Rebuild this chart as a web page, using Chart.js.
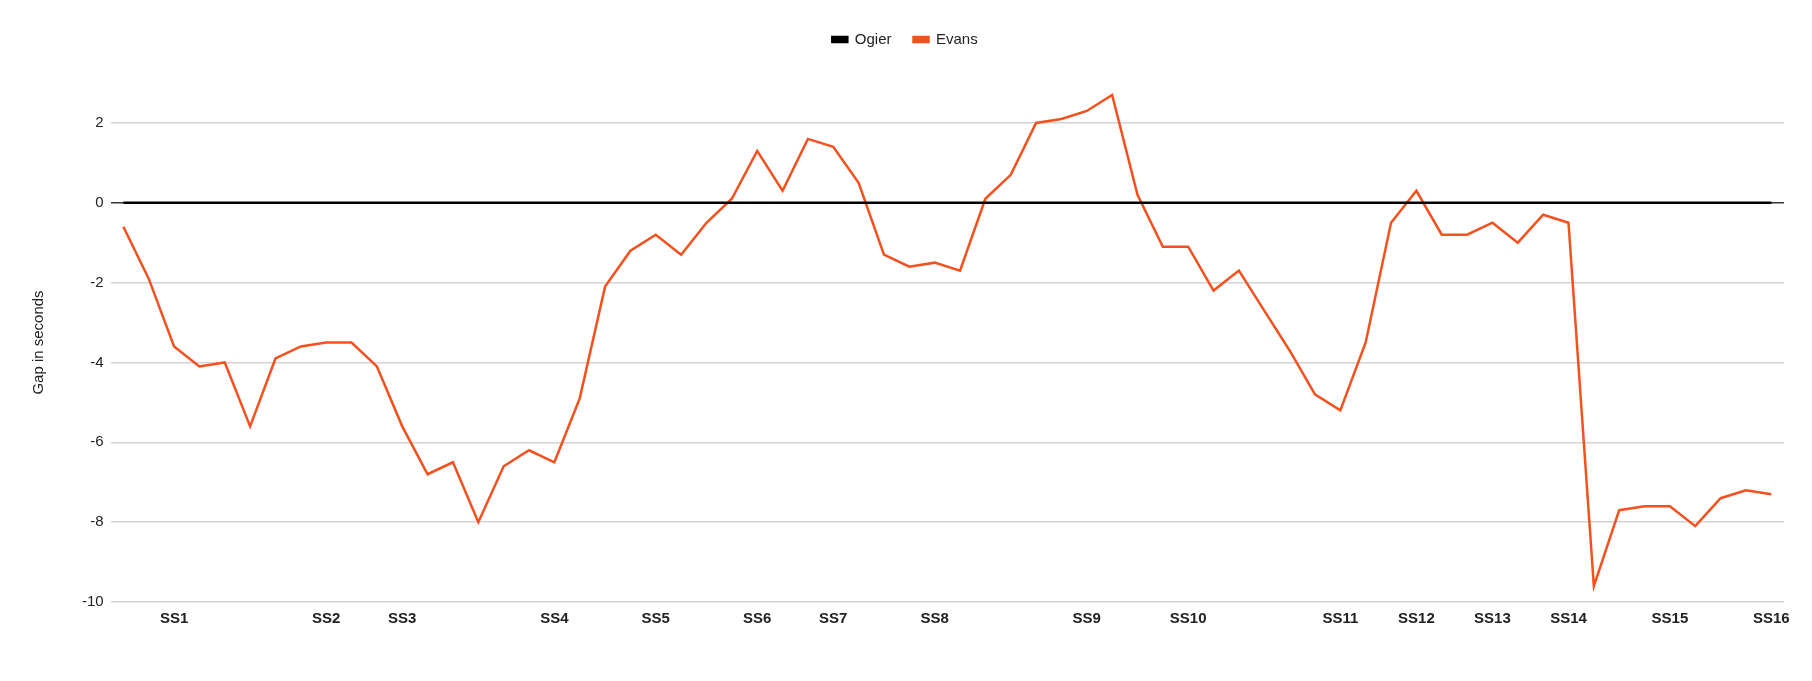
<!DOCTYPE html>
<html>
<head>
<meta charset="utf-8">
<script src="https://cdn.jsdelivr.net/npm/chart.js@4"></script>
<style>
  html, body { margin: 0; padding: 0; background: #fff; }
  #wrap { width: 1812px; height: 681px; }
</style>
</head>
<body>
<div id="wrap"><canvas id="stage"></canvas></div>
<script>
// stage labels, only some points carry a name
const stages = [
  '', '', 'SS1', '', '', '', '', '', 'SS2', '', '',
  'SS3', '', '', '', '', '', 'SS4', '', '', '',
  'SS5', '', '', '', 'SS6', '', '', 'SS7', '', '',
  '', 'SS8', '', '', '', '', '', 'SS9', '', '',
  '', 'SS10', '', '', '', '', '', 'SS11', '', '',
  'SS12', '', '', 'SS13', '', '', 'SS14', '', '', '',
  'SS15', '', '', '', 'SS16'
];

const ogier = [
  0, 0, 0, 0, 0, 0, 0, 0, 0, 0, 0,
  0, 0, 0, 0, 0, 0, 0, 0, 0, 0, 0,
  0, 0, 0, 0, 0, 0, 0, 0, 0, 0, 0,
  0, 0, 0, 0, 0, 0, 0, 0, 0, 0, 0,
  0, 0, 0, 0, 0, 0, 0, 0, 0, 0, 0,
  0, 0, 0, 0, 0, 0, 0, 0, 0, 0, 0
];

const evans = [
  -0.6, -1.9, -3.6, -4.1, -4.0, -5.6, -3.9, -3.6, -3.5, -3.5, -4.1,
  -5.6, -6.8, -6.5, -8.0, -6.6, -6.2, -6.5, -4.9, -2.1, -1.2, -0.8,
  -1.3, -0.5, 0.1, 1.3, 0.3, 1.6, 1.4, 0.5, -1.3, -1.6, -1.5,
  -1.7, 0.1, 0.7, 2.0, 2.1, 2.3, 2.7, 0.2, -1.1, -1.1, -2.2,
  -1.7, -2.7, -3.7, -4.8, -5.2, -3.5, -0.5, 0.3, -0.8, -0.8, -0.5,
  -1.0, -0.3, -0.5, -9.6, -7.7, -7.6, -7.6, -8.1, -7.4, -7.2, -7.3
];

const yTicks = [-10, -8, -6, -4, -2, 0, 2];

Chart.defaults.font.family = '"Liberation Sans", Arial, sans-serif';
Chart.defaults.color = '#222';

// legend の下に余白を足す
const legendGap = {
  id: 'legendGap',
  beforeInit(chart) {
    const fit = chart.legend.fit;
    chart.legend.fit = function () {
      fit.bind(chart.legend)();
      this.height += 26;
    };
  }
};

const ctx = document.getElementById('stage').getContext('2d');
const myChart = new Chart(ctx, {
  type: 'line',
  data: {
    labels: stages,
    datasets: [{
      label: 'Ogier',
      data: ogier,
      borderColor: '#000',
      backgroundColor: '#000',
      borderWidth: 2.5,
      pointRadius: 0,
      tension: 0
    }, {
      label: 'Evans',
      data: evans,
      borderColor: '#f4511e',
      backgroundColor: '#f4511e',
      borderWidth: 2.5,
      pointRadius: 0,
      tension: 0
    }]
  },
  options: {
    responsive: true,
    maintainAspectRatio: false,
    animation: false,
    layout: { padding: { left: 26, right: 28, top: 10, bottom: 46 } },
    plugins: {
      legend: {
        position: 'top',
        labels: {
          boxWidth: 15,
          boxHeight: 5,
          padding: 22,
          color: '#222',
          font: { size: 15 }
        }
      },
      tooltip: { enabled: false }
    },
    scales: {
      x: {
        offset: true,
        grid: { display: false, drawTicks: false },
        border: { display: false },
        ticks: {
          autoSkip: false,
          maxRotation: 0,
          padding: 7.5,
          color: '#222',
          font: { size: 15, weight: 'bold' }
        }
      },
      y: {
        min: -10,
        max: 3,
        afterBuildTicks(axis) {
          axis.ticks = yTicks.map(v => ({ value: v }));
        },
        grid: {
          drawTicks: false,
          lineWidth: 1.5,
          color: (c) => (c.tick && c.tick.value === 0 ? '#333' : '#d4d4d4')
        },
        border: { display: false },
        ticks: {
          padding: 7,
          color: '#222',
          font: { size: 15 }
        },
        title: {
          display: true,
          text: 'Gap in seconds',
          color: '#222',
          font: { size: 15 },
          padding: { top: 4, bottom: 27 }
        }
      }
    }
  },
  plugins: [legendGap]
});
</script>
</body>
</html>
